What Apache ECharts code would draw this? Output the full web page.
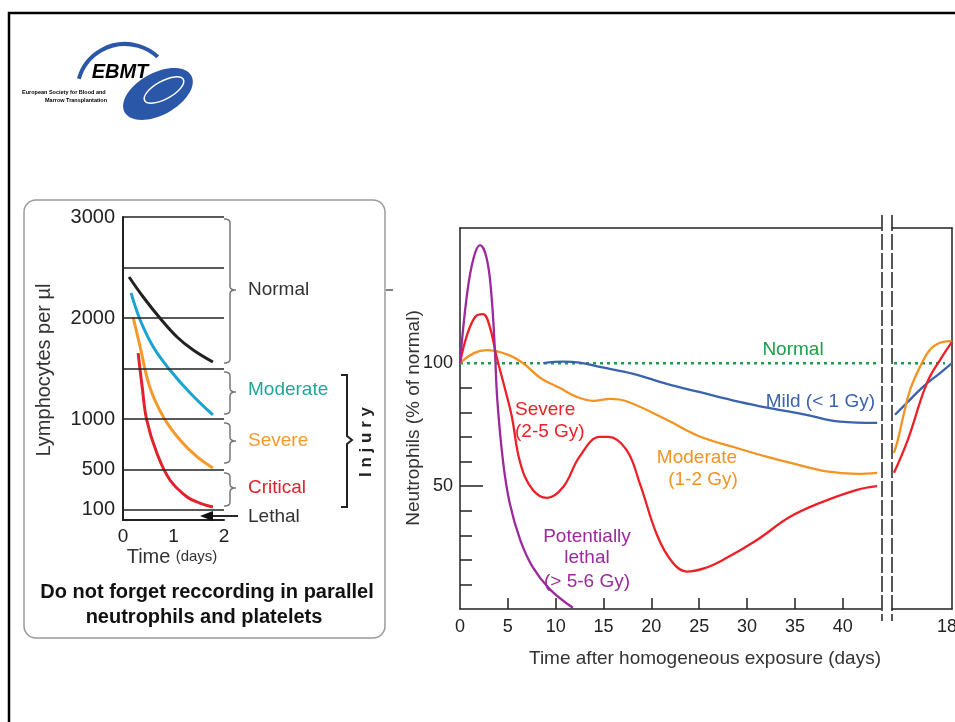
<!DOCTYPE html>
<html><head><meta charset="utf-8">
<script src="https://cdn.jsdelivr.net/npm/echarts@6.0.0/dist/echarts.min.js"></script>
<style>html,body{margin:0;padding:0;background:#fff}#c{width:955px;height:722px}</style>
</head><body><div id="c"></div><script>
// ---------- Left chart: lymphocytes per µl vs time (days) ----------
const lymphNormal   = [[0.12,2406],[0.4,2208],[0.73,2000],[1.07,1812],[1.39,1683],[1.78,1564]];
const lymphModerate = [[0.16,2248],[0.34,1980],[0.6,1713],[0.93,1485],[1.33,1257],[1.78,1040]];
const lymphSevere   = [[0.2,2010],[0.34,1713],[0.53,1317],[0.8,1020],[1.13,792],[1.47,624],[1.78,515]];
const lymphCritical = [[0.3,1653],[0.38,1317],[0.47,990],[0.67,663],[0.93,396],[1.27,228],[1.52,168],[1.78,129]];
const lymphGridValues = [3000,2500,2000,1500,1000,500,100];
const lymphTickLabels = [100,500,1000,2000,3000];
const lymphDayLabels  = [0,1,2];

// ---------- Right chart: neutrophils (% of normal) vs days ----------
const neutroNormal     = [[0,100],[43.6,100]];
const neutroNormalLate = [[64,100],[166,100]];
const neutroMild       = [[8.7,100],[10.8,100.6],[12.5,100.2],[14.6,98.5],[18.1,95.7],[21.6,91.6],[25,88.3],[29.2,84.3],[32.7,81.5],[36.2,79],[39.7,76.2],[43.6,75.7]];
const neutroMildLate   = [[66,79],[90,83.9],[122,90.4],[156,96],[180,100]];
const neutroModerate   = [[0,100],[1.4,104],[2.8,105.3],[4.9,103.6],[6.6,100],[8.4,94],[10.4,90],[12.2,86.3],[13.9,84.7],[15.7,85.5],[17.4,84.5],[21.6,77],[25,70.3],[28.5,66],[32,62],[35,59],[38.3,56],[41.5,55],[43.6,55.4]];
const neutroModerateLate = [[64,63.5],[72,69],[82,78],[96,89],[116,98.5],[136,105.5],[156,108.3],[176,109],[180,108.5]];
const neutroSevere     = [[0,100],[0.7,111],[1.6,118.9],[2.4,120],[3.1,115],[3.8,103],[4.7,89.6],[5.4,78.6],[6.3,59.4],[7.6,48.5],[9.1,45.2],[10.8,49.7],[12.5,62],[14.6,70],[15.5,70],[17.4,64.7],[18.8,51],[20.6,30],[22.2,19],[23.7,15.2],[25.5,16.5],[27.5,20],[31,28],[34.5,37.5],[37.9,43.6],[41.5,48.5],[43.6,50]];
const neutroSevereLate = [[64,55.4],[92,69],[130,92],[160,102.6],[180,108.7]];
const neutroLethal     = [[0,100],[0.7,127],[1.4,142.5],[2.1,148],[2.8,142.5],[3.3,127],[3.65,105],[3.9,85],[4.5,60],[5.2,43],[6.3,28],[7.6,17],[9.4,8],[11.8,0.5]];
const neutroYTicks  = [10,20,30,40,60,70,80,90];
const neutroYLabels = [50,100];
const dayTicks  = [5,10,15,20,25,30,35,40];
const dayLabels = [0,5,10,15,20,25,30,35,40];
const lateDayLabels = [180];

const FONT = 'Liberation Sans, Arial, sans-serif';
const C = {
  red:'#ec2127', orange:'#f39322', blue:'#3a62ae', purple:'#9c2a9c', green:'#18a04a',
  lBlack:'#222', lCyan:'#19a3cf', lOrange:'#f5992b', lRed:'#e1222d', teal:'#1ea79a'
};

const chart = echarts.init(document.getElementById('c'), null, {renderer:'canvas'});

function quad(p0, p1, p2, n){
  const out=[];
  for(let i=0;i<=n;i++){const t=i/n, a=(1-t)*(1-t), b=2*(1-t)*t, c=t*t;
    out.push([a*p0[0]+b*p1[0]+c*p2[0], a*p0[1]+b*p1[1]+c*p2[1]]);}
  return out;
}
function brace(x, y1, y2, ym){
  const w=6, r=4;
  const pts = [].concat(
    quad([x-w,y1],[x,y1],[x,y1+r],6),
    quad([x,ym-r],[x,ym],[x+w,ym],6),
    quad([x+w,ym],[x,ym],[x,ym+r],6),
    quad([x,y2-r],[x,y2],[x-w,y2],6));
  return {type:'polyline', shape:{points:pts}, style:{fill:'none', stroke:'#777', lineWidth:1.5}, z:5};
}
function txt(x, y, text, o){
  o = o || {};
  return {type:'text', x, y, rotation:o.rotation||0, z:10,
    style:{text, fill:o.color||'#222', fontSize:o.size||19, fontWeight:o.weight||'normal',
      fontStyle:o.style||'normal', fontFamily:FONT, align:o.align||'left', verticalAlign:'middle', rich:o.rich}};
}
const lineW = 2.3;
function ser(name, data, color, xi, yi, extra){
  return Object.assign({type:'line', name, data, xAxisIndex:xi, yAxisIndex:yi, symbol:'none', smooth:0.4,
    z:3, lineStyle:{color, width:lineW}, silent:true}, extra||{});
}

const graphics = [
  {type:'rect', shape:{x:9, y:13, width:980, height:740}, style:{fill:'none', stroke:'#000', lineWidth:2.5}, z:1},
  {type:'rect', shape:{x:24, y:200, width:361, height:438, r:12}, style:{fill:'none', stroke:'#9a9a9a', lineWidth:1.5}, z:1},
  {type:'line', shape:{x1:386, y1:290, x2:393, y2:290}, style:{stroke:'#333', lineWidth:1.2}},
  // logo
  {type:'arc', shape:{cx:125, cy:92, r:48, startAngle:196*Math.PI/180, endAngle:313*Math.PI/180, clockwise:true}, style:{fill:'none', stroke:'#2b57a8', lineWidth:4}},
  {type:'ellipse', x:158, y:94, rotation:0.5, shape:{cx:0, cy:0, rx:38, ry:21}, style:{fill:'#2b57a8', stroke:'none'}},
  {type:'ellipse', x:164, y:90, rotation:0.5, shape:{cx:0, cy:0, rx:22, ry:9}, style:{fill:'none', stroke:'#ffffff', lineWidth:1.5}},
  txt(120, 72, 'EBMT', {size:20, weight:'bold', style:'italic', align:'center', color:'#000'}),
  txt(22, 92, 'European Society for Blood and', {size:5.5, weight:'bold', color:'#000'}),
  txt(45, 100, 'Marrow Transplantation', {size:5.5, weight:'bold', color:'#000'}),
  // left chart braces and labels
  brace(230,219,363,290),
  brace(230,372,414,392),
  brace(230,423,463,441),
  brace(230,473,506,488),
  {type:'polyline', shape:{points:[[341,375],[347,375],[347,436],[352,440],[347,444],[347,507],[341,507]]}, style:{fill:'none', stroke:'#222', lineWidth:2}, z:5},
  {type:'line', shape:{x1:238, y1:516, x2:210, y2:516}, style:{stroke:'#111', lineWidth:1.8}, z:5},
  {type:'polygon', shape:{points:[[200,516],[213,511],[213,521]]}, style:{fill:'#111'}, z:5},
  txt(248, 290, 'Normal', {color:'#333'}),
  txt(248, 390, 'Moderate', {color:C.teal}),
  txt(248, 441, 'Severe', {color:C.lOrange}),
  txt(248, 488, 'Critical', {color:C.lRed}),
  txt(248, 517, 'Lethal', {color:'#333'}),
  txt(366, 442, 'I n j u r y', {size:17, weight:'bold', rotation:Math.PI/2, align:'center', color:'#222'}),
  txt(44, 370, 'Lymphocytes per µl', {size:20, rotation:Math.PI/2, align:'center', color:'#333'}),
  txt(172, 557, '{a|Time} {b|(days)}', {align:'center', rich:{a:{fontSize:20, fill:'#333', fontFamily:FONT}, b:{fontSize:15, fill:'#333', fontFamily:FONT}}}),
  txt(207, 592, 'Do not forget reccording in parallel', {size:20, weight:'bold', align:'center', color:'#111'}),
  txt(204, 617, 'neutrophils and platelets', {size:20, weight:'bold', align:'center', color:'#111'}),
  // right chart: break lines
  {type:'line', shape:{x1:882, y1:215, x2:882, y2:621}, style:{stroke:'#222', lineWidth:1.5, lineDash:[16,3]}, z:5},
  {type:'line', shape:{x1:892, y1:215, x2:892, y2:621}, style:{stroke:'#222', lineWidth:1.5, lineDash:[16,3]}, z:5},
  // right chart labels
  txt(793, 350, 'Normal', {color:C.green, align:'center'}),
  txt(875, 402, 'Mild (< 1 Gy)', {color:C.blue, align:'right'}),
  txt(515, 410, 'Severe', {color:C.red}),
  txt(515, 432, '(2-5 Gy)', {color:C.red}),
  txt(697, 458, 'Moderate', {color:C.orange, align:'center'}),
  txt(703, 480, '(1-2 Gy)', {color:C.orange, align:'center'}),
  txt(587, 537, 'Potentially', {color:C.purple, align:'center'}),
  txt(587, 558, 'lethal', {color:C.purple, align:'center'}),
  txt(587, 582, '(> 5-6 Gy)', {color:C.purple, align:'center'}),
  txt(414, 418, 'Neutrophils (% of normal)', {size:19, rotation:Math.PI/2, align:'center', color:'#333'}),
  txt(705, 659, 'Time after homogeneous exposure (days)', {size:19, align:'center', color:'#333'})
];

const axisLbl = {color:'#222', fontFamily:FONT, formatter:(v)=>String(v)};
const frameLine = {onZero:false, lineStyle:{color:'#222', width:1.5}};
const option = {
  animation:false,
  backgroundColor:'#fff',
  grid:[
    {left:123, top:217, width:101, height:303, outerBoundsMode:'none', containLabel:false},
    {left:460, top:228, width:421, height:381, outerBoundsMode:'none', containLabel:false},
    {left:892, top:228, width:60, height:381, outerBoundsMode:'none', containLabel:false}
  ],
  xAxis:[
    {gridIndex:0, type:'value', min:0, max:2, position:'bottom',
      axisLine:{onZero:false, lineStyle:{color:'#222', width:2}}, axisTick:{show:false}, splitLine:{show:false},
      axisLabel:Object.assign({fontSize:19, margin:7, customValues:lymphDayLabels}, axisLbl)},
    {gridIndex:1, type:'value', min:0, max:44, position:'bottom',
      axisLine:frameLine,
      axisTick:{inside:true, length:11, customValues:dayTicks, lineStyle:{color:'#222', width:1.5}},
      splitLine:{show:false},
      axisLabel:Object.assign({fontSize:18, margin:9, customValues:dayLabels}, axisLbl)},
    {gridIndex:1, type:'value', min:0, max:44, position:'top',
      axisLine:frameLine, axisTick:{show:false}, axisLabel:{show:false}, splitLine:{show:false}},
    {gridIndex:2, type:'value', min:60, max:180, position:'bottom',
      axisLine:frameLine, axisTick:{show:false}, splitLine:{show:false},
      axisLabel:Object.assign({fontSize:18, margin:9, customValues:lateDayLabels}, axisLbl)},
    {gridIndex:2, type:'value', min:60, max:180, position:'top',
      axisLine:frameLine, axisTick:{show:false}, axisLabel:{show:false}, splitLine:{show:false}}
  ],
  yAxis:[
    {gridIndex:0, type:'value', min:0, max:3000, position:'left',
      axisLine:{show:true, onZero:false, lineStyle:{color:'#222', width:2}}, axisTick:{show:false}, splitLine:{show:false},
      axisLabel:Object.assign({fontSize:20, margin:8, customValues:lymphTickLabels}, axisLbl)},
    {gridIndex:1, type:'value', min:0, max:155, position:'left',
      axisLine:Object.assign({show:true}, frameLine),
      axisTick:{show:true, inside:true, length:12, customValues:neutroYTicks, lineStyle:{color:'#222', width:1.5}},
      splitLine:{show:false},
      axisLabel:Object.assign({fontSize:18, margin:7, customValues:neutroYLabels}, axisLbl)},
    {gridIndex:1, type:'value', min:0, max:155, position:'left',
      axisLine:{show:false, onZero:false},
      axisTick:{show:true, inside:true, length:23, customValues:[50], lineStyle:{color:'#222', width:1.5}},
      splitLine:{show:false}, axisLabel:{show:false}},
    {gridIndex:2, type:'value', min:0, max:155, position:'right',
      axisLine:Object.assign({show:true}, frameLine), axisTick:{show:false}, splitLine:{show:false}, axisLabel:{show:false}}
  ],
  series:[
    {type:'line', data:[], xAxisIndex:0, yAxisIndex:0, z:1, silent:true,
      markLine:{silent:true, symbol:'none', animation:false, label:{show:false},
        lineStyle:{color:'#222', width:1.5, type:'solid'},
        data:lymphGridValues.map(v=>({yAxis:v}))}},
    ser('Normal', lymphNormal, C.lBlack, 0, 0, {lineStyle:{color:C.lBlack, width:3}}),
    ser('Moderate', lymphModerate, C.lCyan, 0, 0, {lineStyle:{color:C.lCyan, width:3}}),
    ser('Severe', lymphSevere, C.lOrange, 0, 0, {lineStyle:{color:C.lOrange, width:3}}),
    ser('Critical', lymphCritical, C.lRed, 0, 0, {lineStyle:{color:C.lRed, width:3}}),

    ser('Normal', neutroNormal, C.green, 1, 1, {smooth:false, lineStyle:{color:C.green, width:2.5, type:[3,4]}}),
    ser('Mild', neutroMild, C.blue, 1, 1),
    ser('Moderate', neutroModerate, C.orange, 1, 1),
    ser('Severe', neutroSevere, C.red, 1, 1),
    ser('Potentially lethal', neutroLethal, C.purple, 1, 1),

    ser('Normal late', neutroNormalLate, C.green, 3, 3, {smooth:false, lineStyle:{color:C.green, width:2.5, type:[3,4]}}),
    ser('Mild late', neutroMildLate, C.blue, 3, 3),
    ser('Moderate late', neutroModerateLate, C.orange, 3, 3),
    ser('Severe late', neutroSevereLate, C.red, 3, 3)
  ],
  graphic:graphics
};
chart.setOption(option);
</script></body></html>
